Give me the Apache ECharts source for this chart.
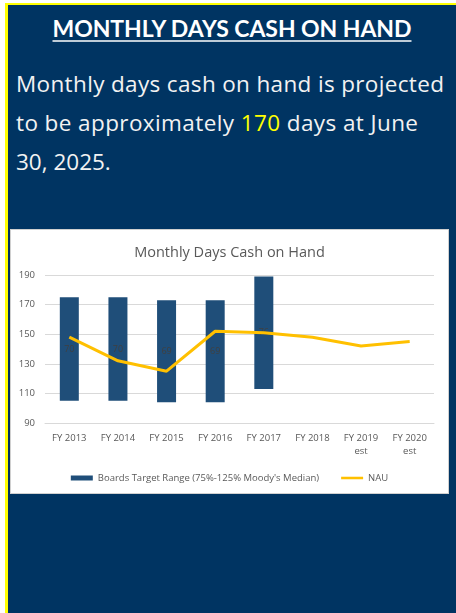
<!DOCTYPE html>
<html>
<head>
<meta charset="utf-8">
<script src="https://cdn.jsdelivr.net/npm/echarts@6/dist/echarts.min.js"></script>
<style>
  html, body { margin:0; padding:0; width:456px; height:613px; background:#ffffff; overflow:hidden; }
  #panel { position:absolute; left:5px; top:3px; width:451px; height:610px; background:#003462;
           border-left:3px solid #ffff00; border-top:2px solid #ffff00; box-sizing:border-box; }
  #head { position:absolute; left:0; top:0; width:456px; height:200px; }
  #chartBox { position:absolute; left:11px; top:230px; width:437px; height:263px; background:#ffffff;
              box-shadow: 0 0 0 1px #d0d0d0; }
  #chart { width:437px; height:263px; }
</style>
</head>
<body>
<div id="panel"></div>
<svg id="head" width="456" height="200" xmlns="http://www.w3.org/2000/svg">
  <text x="232" y="36.5" text-anchor="middle" font-family="Lato" font-weight="bold" font-size="23"
        fill="#ffffff" textLength="359" lengthAdjust="spacing">MONTHLY DAYS CASH ON HAND</text>
  <line x1="52.5" y1="41" x2="411.5" y2="41" stroke="#ffffff" stroke-width="1.6"/>
  <text x="16" y="91.5" font-family="Open Sans" font-size="22.5" fill="#f2f2f2" textLength="428" lengthAdjust="spacing">Monthly days cash on hand is projected</text>
  <text x="16" y="131" font-family="Open Sans" font-size="22.5" fill="#f2f2f2" textLength="402" lengthAdjust="spacing">to be approximately <tspan fill="#ffff00">170</tspan> days at June</text>
  <text x="16" y="170" font-family="Open Sans" font-size="22.5" fill="#f2f2f2">30, 2025.</text>
</svg>
<div id="chartBox"><div id="chart"></div></div>
<script>
const categories = ['FY 2013', 'FY 2014', 'FY 2015', 'FY 2016', 'FY 2017', 'FY 2018', 'FY 2019\nest', 'FY 2020\nest'];
const targetLow  = [105, 105, 104, 104, 113, null, null, null];
const targetHigh = [175, 175, 173, 173, 189, null, null, null];
const nauValues  = [148, 132, 125, 152, 151, 148, 142, 145];
const yMin = 90, yMax = 190, yStep = 20;
const rangeName = "Boards Target Range (75%-125% Moody's Median)";
const lineName = 'NAU';

const targetSpan = targetLow.map((lo, i) => (lo == null || targetHigh[i] == null) ? null : targetHigh[i] - lo);

const FONT = 'Open Sans';
const chart = echarts.init(document.getElementById('chart'), null, { renderer: 'canvas' });
chart.setOption({
  animation: false,
  backgroundColor: '#ffffff',
  textStyle: { fontFamily: FONT },
  title: {
    text: 'Monthly Days Cash on Hand', left: 'center', top: 10,
    textStyle: { fontFamily: FONT, fontSize: 14.5, fontWeight: 'normal', color: '#595959' }
  },
  grid: { left: 34, right: 14, top: 45, bottom: 70 },
  legend: {
    data: [
      { name: rangeName, icon: 'rect' },
      { name: lineName, icon: 'path://M0,0 L0,0 M0,1 L26,1 L26,4 L0,4 Z M0,5 L0,5' }
    ],
    left: 'center', top: 238, itemWidth: 22, itemHeight: 5, itemGap: 22,
    textStyle: { fontFamily: FONT, fontSize: 9.5, color: '#595959' }
  },
  xAxis: {
    type: 'category', data: categories,
    axisLine: { show: true, lineStyle: { color: '#d9d9d9' } },
    axisTick: { show: false },
    axisLabel: { color: '#595959', fontSize: 9.5, fontFamily: FONT, margin: 9, interval: 0, lineHeight: 13 }
  },
  yAxis: {
    type: 'value', min: yMin, max: yMax, interval: yStep,
    axisLine: { show: false }, axisTick: { show: false },
    axisLabel: { color: '#595959', fontSize: 9.5, fontFamily: FONT, margin: 10 },
    splitLine: { lineStyle: { color: '#d9d9d9', width: 1 } }
  },
  series: [
    { name: 'base', type: 'bar', stack: 'range', data: targetLow, barWidth: 19,
      itemStyle: { color: 'rgba(0,0,0,0)' }, silent: true, legendHoverLink: false },
    { name: rangeName, type: 'bar', stack: 'range', data: targetSpan, barWidth: 19,
      itemStyle: { color: '#1f4e79' },
      label: { show: true, position: 'inside', color: '#404040', fontSize: 9, fontFamily: FONT }, z: 2 },
    { name: lineName, type: 'line', data: nauValues, symbol: 'none',
      lineStyle: { color: '#ffc000', width: 3 }, itemStyle: { color: '#ffc000' }, z: 3 }
  ]
});
</script>
</body>
</html>
